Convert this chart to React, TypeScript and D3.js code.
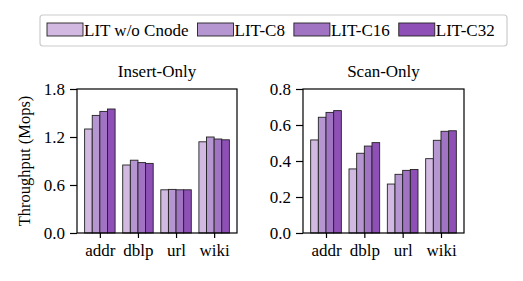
import React, { useEffect, useRef } from 'react';
import * as d3 from 'd3';

const datasets = ['addr', 'dblp', 'url', 'wiki'];
const seriesNames = ['LIT w/o Cnode', 'LIT-C8', 'LIT-C16', 'LIT-C32'];
const colors = ['#d1b9e1', '#b596d1', '#a173c3', '#8e4fb6'];

// throughput (Mops), one array per series, in dataset order
const insertWoCnode = [1.3, 0.85, 0.54, 1.14];
const insertC8 = [1.47, 0.91, 0.545, 1.2];
const insertC16 = [1.52, 0.88, 0.54, 1.175];
const insertC32 = [1.55, 0.87, 0.54, 1.165];

const scanWoCnode = [0.517, 0.356, 0.272, 0.413];
const scanC8 = [0.643, 0.443, 0.326, 0.515];
const scanC16 = [0.67, 0.483, 0.348, 0.565];
const scanC32 = [0.68, 0.502, 0.353, 0.568];

const insertTicks = [0, 0.6, 1.2, 1.8];
const scanTicks = [0, 0.2, 0.4, 0.6, 0.8];

const FONT = '"Liberation Serif", "Times New Roman", serif';
const FS = '17px';

function App() {
    const ref = useRef<SVGSVGElement>(null);

    useEffect(() => {
        const svg = d3.select(ref.current);
        svg.selectAll('*').remove();

        const top = 89, bottom = 233;

        const panels = [
            { title: 'Insert-Only', left: 77, right: 237, max: 1.8, ticks: insertTicks,
              series: [insertWoCnode, insertC8, insertC16, insertC32] },
            { title: 'Scan-Only', left: 303, right: 464, max: 0.8, ticks: scanTicks,
              series: [scanWoCnode, scanC8, scanC16, scanC32] },
        ];

        panels.forEach(p => {
            const x = d3.scaleLinear().domain([-0.6, datasets.length - 0.4]).range([p.left, p.right]);
            const y = d3.scaleLinear().domain([0, p.max]).range([bottom, top]);
            const g = svg.append('g');
            const bw = 0.2;

            p.series.forEach((vals, j) => {
                g.selectAll(null)
                    .data(vals)
                    .enter()
                    .append('rect')
                    .attr('x', (d, i) => x(i - 0.4 + j * bw))
                    .attr('width', x(bw) - x(0))
                    .attr('y', d => y(d))
                    .attr('height', d => y(0) - y(d))
                    .style('fill', colors[j])
                    .style('stroke', '#222')
                    .style('stroke-width', 0.9);
            });

            // frame
            g.append('rect')
                .attr('x', p.left).attr('y', top)
                .attr('width', p.right - p.left).attr('height', bottom - top)
                .style('fill', 'none').style('stroke', '#000').style('stroke-width', 1.2);

            const yAxis = d3.axisLeft(y).tickValues(p.ticks).tickFormat(d3.format('.1f')).tickSize(7).tickPadding(5);
            const ya = g.append('g').attr('transform', `translate(${p.left},0)`).call(yAxis);
            ya.select('.domain').remove();

            const xAxis = d3.axisBottom(x).tickValues(d3.range(datasets.length))
                .tickFormat((d: any) => datasets[d]).tickSize(5).tickPadding(6);
            const xa = g.append('g').attr('transform', `translate(0,${bottom})`).call(xAxis);
            xa.select('.domain').remove();

            [ya, xa].forEach(a => {
                a.selectAll('text').style('font-family', FONT).style('font-size', FS).style('fill', '#000');
                a.selectAll('line').style('stroke', '#000').style('stroke-width', 1.2);
            });

            g.append('text')
                .attr('x', (p.left + p.right) / 2).attr('y', 77)
                .attr('text-anchor', 'middle')
                .style('font-family', FONT).style('font-size', FS)
                .text(p.title);
        });

        // y label
        svg.append('text')
            .attr('transform', `translate(30,${(top + bottom) / 2}) rotate(-90)`)
            .attr('text-anchor', 'middle')
            .style('font-family', FONT).style('font-size', '16.5px')
            .text('Throughput (Mops)');

        // legend
        const lg = svg.append('g');
        lg.append('rect')
            .attr('x', 40).attr('y', 15).attr('width', 467).attr('height', 31).attr('rx', 3)
            .style('fill', '#fff').style('stroke', '#ccc').style('stroke-width', 1.2);
        let cx = 47;
        seriesNames.forEach((name, j) => {
            lg.append('rect')
                .attr('x', cx).attr('y', 23).attr('width', 36).attr('height', 13)
                .style('fill', colors[j]).style('stroke', '#222').style('stroke-width', 0.9);
            const t = lg.append('text')
                .attr('x', cx + 37).attr('y', 36)
                .style('font-family', FONT).style('font-size', FS)
                .text(name);
            const w = (t.node() as SVGTextElement).getComputedTextLength();
            cx += 37 + w + 9;
        });
    }, []);

    return (
        <svg ref={ref} width={523} height={281} style={{ position: 'absolute', left: 0, top: 0 }}></svg>
    );
}

export default App;
